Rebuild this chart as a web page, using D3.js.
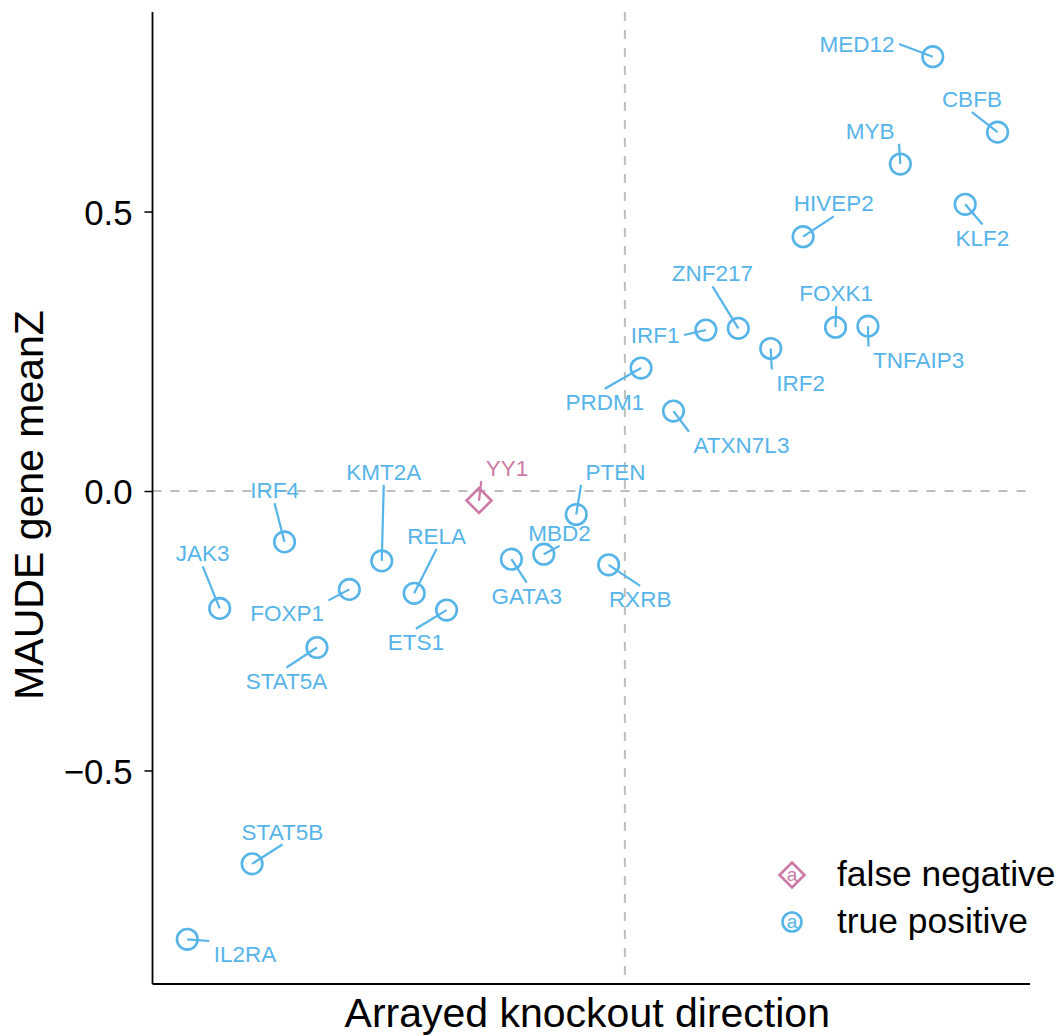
<!DOCTYPE html>
<html>
<head>
<meta charset="utf-8">
<script src="https://cdn.jsdelivr.net/npm/d3@7"></script>
<style>
  body { margin: 0; background: #fff; }
  svg text { font-family: "Liberation Sans", Arial, Helvetica, sans-serif; }
</style>
</head>
<body>
<div id="scatter"></div>
<script>
// genes ordered by arrayed knockout direction (rank on x)
var genes = ["IL2RA", "JAK3", "STAT5B", "IRF4", "STAT5A", "FOXP1", "KMT2A", "RELA", "ETS1",
  "YY1", "GATA3", "MBD2", "PTEN", "RXRB", "PRDM1", "ATXN7L3", "IRF1", "ZNF217", "IRF2",
  "HIVEP2", "FOXK1", "TNFAIP3", "MYB", "MED12", "KLF2", "CBFB"];

var meanZ = [-0.802, -0.210, -0.667, -0.091, -0.280, -0.176, -0.125, -0.183, -0.213,
  -0.017, -0.122, -0.113, -0.042, -0.132, 0.220, 0.143, 0.288, 0.291, 0.255,
  0.455, 0.293, 0.295, 0.585, 0.777, 0.513, 0.642];

var geneStatus = ["true positive", "true positive", "true positive", "true positive", "true positive",
  "true positive", "true positive", "true positive", "true positive", "false negative",
  "true positive", "true positive", "true positive", "true positive", "true positive",
  "true positive", "true positive", "true positive", "true positive", "true positive",
  "true positive", "true positive", "true positive", "true positive", "true positive",
  "true positive"];

var yTicks = [-0.5, 0.0, 0.5];
var legendItems = ["false negative", "true positive"];

// repelled label placement (pixel offsets from each point), as ggrepel left them
var labelOffsets = [[57.7, 14.7], [-17, -55], [30.3, -32.3], [-10, -51.7], [-30.4, 33],
  [-62.3, 24], [2, -89], [22.5, -57.6], [-30.7, 31.7], [28, -32.4], [15.3, 36.4],
  [15.7, -21.3], [39.3, -42.6], [31.5, 34], [-36.3, 33.7], [68, 33.7], [-50.7, 5],
  [-25.8, -55], [30, 34], [30.7, -33.4], [0.7, -34], [50.7, 33.3], [-30.2, -33.3],
  [-75.7, -12.7], [17.3, 33.3], [-25.7, -33]];

var colors = { "false negative": "#CC79A7", "true positive": "#56B4E9" };

var svgWidth = 1063;
var svgHeight = 1036;

var margin = { top: 12, right: 33, bottom: 52, left: 152.5 };
var width = svgWidth - margin.left - margin.right;
var height = svgHeight - margin.top - margin.bottom;

var svg = d3.select("#scatter")
  .append("svg")
  .attr("width", svgWidth)
  .attr("height", svgHeight);

var chartGroup = svg.append("g")
  .attr("transform", `translate(${margin.left}, ${margin.top})`);

var data = genes.map(function(g, i) {
  return { gene: g, rank: i + 1, z: meanZ[i], kind: geneStatus[i], off: labelOffsets[i] };
});

var xLinearScale = d3.scaleLinear().domain([-0.0735, 27.0]).range([0, width]);
var yLinearScale = d3.scaleLinear().domain([-0.882, 0.857]).range([height, 0]);

// reference lines
chartGroup.append("line")
  .attr("x1", 0).attr("x2", width)
  .attr("y1", yLinearScale(0)).attr("y2", yLinearScale(0))
  .attr("stroke", "#bebebe").attr("stroke-width", 2)
  .attr("stroke-dasharray", "9,9");

chartGroup.append("line")
  .attr("x1", xLinearScale(14.5)).attr("x2", xLinearScale(14.5))
  .attr("y1", 0).attr("y2", height)
  .attr("stroke", "#bebebe").attr("stroke-width", 2)
  .attr("stroke-dasharray", "9,9");

// axes
var leftAxis = d3.axisLeft(yLinearScale)
  .tickValues(yTicks)
  .tickSize(8)
  .tickPadding(12)
  .tickFormat(function(d) { return d3.format(".1f")(d).replace("-", "\u2212"); });

var yAxis = chartGroup.append("g").call(leftAxis);
yAxis.select(".domain").remove();
yAxis.selectAll(".tick line").attr("stroke", "#000").attr("stroke-width", 1.5);
yAxis.selectAll(".tick text")
  .attr("fill", "#000")
  .attr("font-size", "34.8px")
  .attr("dy", "0.36em");

chartGroup.append("line")
  .attr("x1", 0).attr("x2", 0).attr("y1", 0).attr("y2", height)
  .attr("stroke", "#000").attr("stroke-width", 1.8);
chartGroup.append("line")
  .attr("x1", 0).attr("x2", width).attr("y1", height).attr("y2", height)
  .attr("stroke", "#000").attr("stroke-width", 1.8);

// axis titles
svg.append("text")
  .attr("x", margin.left + width / 2 - 4)
  .attr("y", 1027)
  .attr("text-anchor", "middle")
  .attr("font-size", "41px")
  .attr("fill", "#000")
  .text("Arrayed knockout direction");

svg.append("text")
  .attr("transform", `translate(43, ${margin.top + height / 2 + 7}) rotate(-90)`)
  .attr("text-anchor", "middle")
  .attr("font-size", "41px")
  .attr("fill", "#000")
  .text("MAUDE gene meanZ");

// labels (measure first so the segments can meet the box)
var fs = 22.5;
var labels = chartGroup.selectAll(".geneLabel")
  .data(data)
  .enter()
  .append("text")
  .attr("class", "geneLabel")
  .attr("x", d => xLinearScale(d.rank) + d.off[0])
  .attr("y", d => yLinearScale(d.z) + d.off[1] + fs * 0.36)
  .attr("text-anchor", "middle")
  .attr("font-size", fs + "px")
  .attr("fill", d => colors[d.kind])
  .text(d => d.gene);

labels.each(function(d) {
  d.tw = this.getComputedTextLength();
});

// segment meets the label box: side middle when the point faces a side, corner otherwise
function segEnd(d) {
  var px = xLinearScale(d.rank), py = yLinearScale(d.z);
  var cx = px + d.off[0], cy = py + d.off[1];
  var x1 = cx - d.tw / 2 - 4.5, x2 = cx + d.tw / 2 + 4.5;
  var y1 = cy - 13, y2 = cy + 13;
  var ex = px < x1 ? x1 : (px > x2 ? x2 : cx);
  var ey = py < y1 ? y1 : (py > y2 ? y2 : cy);
  return [ex, ey];
}

chartGroup.selectAll(".seg")
  .data(data)
  .enter()
  .insert("line", ".geneLabel")
  .attr("class", "seg")
  .attr("x1", d => xLinearScale(d.rank))
  .attr("y1", d => yLinearScale(d.z))
  .attr("x2", d => segEnd(d)[0])
  .attr("y2", d => segEnd(d)[1])
  .attr("stroke", d => colors[d.kind])
  .attr("stroke-width", 2.2);

// points: open circles and an open diamond
var diamond = "M0,-12.5L12.5,0L0,12.5L-12.5,0Z";

chartGroup.selectAll(".pt")
  .data(data)
  .enter()
  .append("path")
  .attr("class", "pt")
  .attr("transform", d => `translate(${xLinearScale(d.rank)}, ${yLinearScale(d.z)})`)
  .attr("d", d => d.kind === "false negative" ? diamond : d3.arc()({
    innerRadius: 0, outerRadius: 10.3, startAngle: 0, endAngle: 2 * Math.PI }))
  .attr("fill", "none")
  .attr("stroke", d => colors[d.kind])
  .attr("stroke-width", 2.6);

// legend
var legend = svg.append("g").attr("transform", "translate(792, 875)");
legendItems.forEach(function(item, i) {
  var g = legend.append("g").attr("transform", `translate(0, ${i * 47})`);
  if (item === "false negative") {
    g.append("path").attr("d", diamond)
      .attr("fill", "none").attr("stroke", colors[item]).attr("stroke-width", 2.6);
  } else {
    g.append("circle").attr("r", 9.5)
      .attr("fill", "none").attr("stroke", colors[item]).attr("stroke-width", 2.6);
  }
  g.append("text")
    .attr("x", 0).attr("y", 6)
    .attr("text-anchor", "middle")
    .attr("font-size", "19px")
    .attr("fill", colors[item])
    .text("a");
  g.append("text")
    .attr("x", 45).attr("y", 10.5)
    .attr("font-size", "35.4px")
    .attr("fill", "#000")
    .text(item);
});
</script>
</body>
</html>
